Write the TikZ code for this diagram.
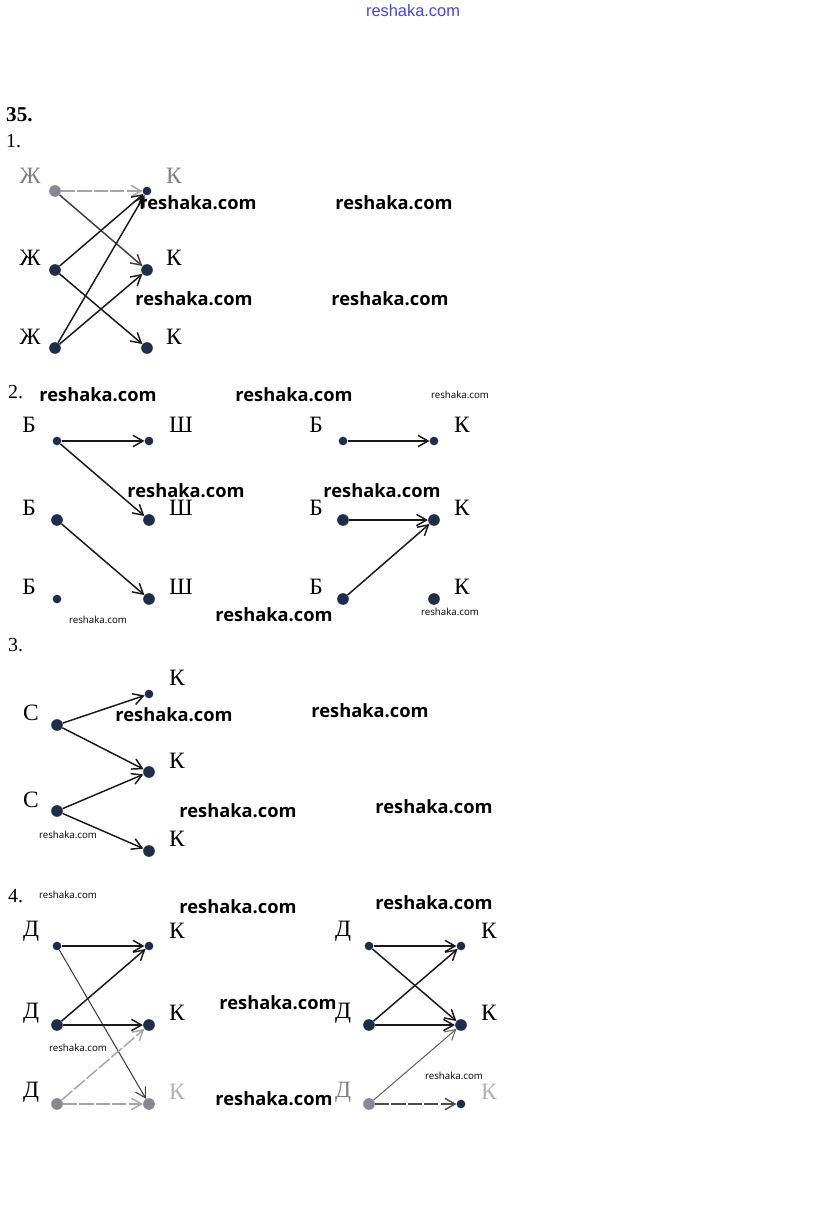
\documentclass[tikz,border=0pt]{standalone}
\usepackage{fontspec}
\setmainfont{Liberation Serif}
\newfontfamily\wmfont{Open Sans}
\newfontfamily\topfont{Liberation Sans}
\usetikzlibrary{arrows.meta}
\definecolor{dotblue}{RGB}{31,45,75}
\definecolor{dotgrey}{RGB}{135,135,148}
\definecolor{wmblue}{RGB}{70,70,215}

\begin{document}
\begin{tikzpicture}[x=0.03cm,y=-0.03cm]
\tikzset{dot/.style = {shape=circle,fill=dotblue,inner sep=0pt,minimum size=3.5mm}}
\tikzset{sdot/.style = {dot,minimum size=2.6mm}}
\tikzset{gdot/.style = {dot,fill=dotgrey}}
\tikzset{letter/.style = {font=\fontsize{20}{24}\selectfont,inner sep=0pt}}
\tikzset{num/.style = {font=\fontsize{17}{20}\selectfont,inner sep=0pt,anchor=west}}
\tikzset{wm/.style = {font=\wmfont\bfseries\fontsize{15.6}{18}\selectfont,inner sep=0pt}}
\tikzset{swm/.style = {font=\wmfont\fontsize{8.3}{10}\selectfont,inner sep=0pt}}
\tikzset{edge/.style = {-{Straight Barb[length=3mm,width=3.4mm]},line width=1.25pt,black!90}}
\tikzset{gedge/.style = {edge,gray!70,dash pattern=on 12pt off 2pt}}
\useasboundingbox[fill=white] (0,0) rectangle (823,1231);
% header
\node[font=\topfont\fontsize{14}{16}\selectfont,text=wmblue,inner sep=0pt] (top) at (413,11) {reshaka.com};
\node[num,font=\bfseries\fontsize{18}{20}\selectfont] (n35) at (6,115) {35.};
\node[num] (n1) at (6,141) {1.};
\node[num] (n2) at (8,392) {2.};
\node[num] (n3) at (8,645) {3.};
\node[num] (n4) at (8,896) {4.};
% labels
\node[letter,text=gray] (lzh1) at (30,176) {Ж};
\node[letter] (lzh2) at (30,258) {Ж};
\node[letter] (lzh3) at (30,337) {Ж};
\node[letter,text=gray] (lk1) at (174,176) {К};
\node[letter] (lk2) at (174,258) {К};
\node[letter] (lk3) at (174,337) {К};
\node[letter] (lb1) at (29,425) {Б};
\node[letter] (lb2) at (29,508) {Б};
\node[letter] (lb3) at (29,587) {Б};
\node[letter] (lsh1) at (181,425) {Ш};
\node[letter] (lsh2) at (181,508) {Ш};
\node[letter] (lsh3) at (181,587) {Ш};
\node[letter] (lbb1) at (316,425) {Б};
\node[letter] (lbb2) at (316,508) {Б};
\node[letter] (lbb3) at (316,587) {Б};
\node[letter] (lkk1) at (462,425) {К};
\node[letter] (lkk2) at (462,508) {К};
\node[letter] (lkk3) at (462,587) {К};
\node[letter] (ls1) at (31,713) {С};
\node[letter] (ls2) at (31,800) {С};
\node[letter] (lc1) at (177,678) {К};
\node[letter] (lc2) at (177,761) {К};
\node[letter] (lc3) at (177,839) {К};
\node[letter] (ld1) at (31,931) {Д};
\node[letter] (ld2) at (31,1013) {Д};
\node[letter] (ld3) at (31,1092) {Д};
\node[letter] (lm1) at (177,931) {К};
\node[letter] (lm2) at (177,1013) {К};
\node[letter,text=gray!60] (lm3) at (177,1092) {К};
\node[letter] (ldd1) at (343,931) {Д};
\node[letter] (ldd2) at (343,1013) {Д};
\node[letter,text=gray] (ldd3) at (343,1092) {Д};
\node[letter] (lmm1) at (489,931) {К};
\node[letter] (lmm2) at (489,1013) {К};
\node[letter,text=gray!60] (lmm3) at (489,1092) {К};
% vertices
\node[gdot] (zh1) at (55,191) {};
\node[dot] (zh2) at (55,270) {};
\node[dot] (zh3) at (55,348) {};
\node[sdot] (k1) at (147,191) {};
\node[dot] (k2) at (147,270) {};
\node[dot] (k3) at (147,348) {};
\node[sdot] (b1) at (57,441) {};
\node[dot] (b2) at (57,520) {};
\node[sdot] (b3) at (57,599) {};
\node[sdot] (sh1) at (149,441) {};
\node[dot] (sh2) at (149,520) {};
\node[dot] (sh3) at (149,599) {};
\node[sdot] (bb1) at (343,441) {};
\node[dot] (bb2) at (343,520) {};
\node[dot] (bb3) at (343,599) {};
\node[sdot] (kk1) at (434,441) {};
\node[dot] (kk2) at (434,520) {};
\node[dot] (kk3) at (434,599) {};
\node[dot] (s1) at (57,725) {};
\node[dot] (s2) at (57,811) {};
\node[sdot] (c1) at (149,694) {};
\node[dot] (c2) at (149,772) {};
\node[dot] (c3) at (149,851) {};
\node[sdot] (d1) at (57,946) {};
\node[dot] (d2) at (57,1025) {};
\node[gdot] (d3) at (57,1104) {};
\node[sdot] (m1) at (149,946) {};
\node[dot] (m2) at (149,1025) {};
\node[gdot] (m3) at (149,1104) {};
\node[sdot] (dd1) at (369,946) {};
\node[dot] (dd2) at (369,1025) {};
\node[gdot] (dd3) at (369,1104) {};
\node[sdot] (mm1) at (461,946) {};
\node[dot] (mm2) at (461,1025) {};
\node[sdot] (mm3) at (461,1104) {};
%edges
\draw[gedge] (zh1) -- (k1);
\draw[edge,black!75] (zh1) -- (k2);
\draw[edge] (zh2) -- (k1);
\draw[edge] (zh2) -- (k3);
\draw[edge] (zh3) -- (k1);
\draw[edge] (zh3) -- (k2);
\draw[edge] (b1) -- (sh1);
\draw[edge] (b1) -- (sh2);
\draw[edge] (b2) -- (sh3);
\draw[edge] (bb1) -- (kk1);
\draw[edge] (bb2) -- (kk2);
\draw[edge] (bb3) -- (kk2);
\draw[edge] (s1) -- (c1);
\draw[edge] (s1) -- (c2);
\draw[edge] (s2) -- (c2);
\draw[edge] (s2) -- (c3);
\draw[edge] (d1) -- (m1);
\draw[edge,line width=0.9pt,black!75] (d1) -- (m3);
\draw[edge] (d2) -- (m1);
\draw[edge] (d2) -- (m2);
\draw[gedge] (d3) -- (m2);
\draw[gedge] (d3) -- (m3);
\draw[edge] (dd1) -- (mm1);
\draw[edge] (dd1) -- (mm2);
\draw[edge] (dd2) -- (mm1);
\draw[edge] (dd2) -- (mm2);
\draw[edge,black!60,line width=0.9pt] (dd3) -- (mm2);
\draw[gedge,black!70] (dd3) -- (mm3);
% watermarks
\node[wm] (w1) at (198,203) {reshaka.com};
\node[wm] (w2) at (394,203) {reshaka.com};
\node[wm] (w3) at (194,299) {reshaka.com};
\node[wm] (w4) at (390,299) {reshaka.com};
\node[wm] (w5) at (98,395) {reshaka.com};
\node[wm] (w6) at (294,395) {reshaka.com};
\node[swm] (w7) at (460,395) {reshaka.com};
\node[wm] (w8) at (186,491) {reshaka.com};
\node[wm] (w9) at (382,491) {reshaka.com};
\node[wm] (w10) at (274,615) {reshaka.com};
\node[swm] (w11) at (98,620) {reshaka.com};
\node[swm] (w12) at (450,612) {reshaka.com};
\node[wm] (w13) at (174,715) {reshaka.com};
\node[wm] (w14) at (370,711) {reshaka.com};
\node[wm] (w15) at (238,811) {reshaka.com};
\node[wm] (w16) at (434,807) {reshaka.com};
\node[swm] (w17) at (68,835) {reshaka.com};
\node[swm] (w18) at (68,895) {reshaka.com};
\node[wm] (w19) at (238,907) {reshaka.com};
\node[wm] (w20) at (434,903) {reshaka.com};
\node[wm] (w21) at (278,1003) {reshaka.com};
\node[swm] (w22) at (78,1048) {reshaka.com};
\node[swm] (w23) at (454,1076) {reshaka.com};
\node[wm] (w24) at (274,1099) {reshaka.com};
\end{tikzpicture}
\end{document}
